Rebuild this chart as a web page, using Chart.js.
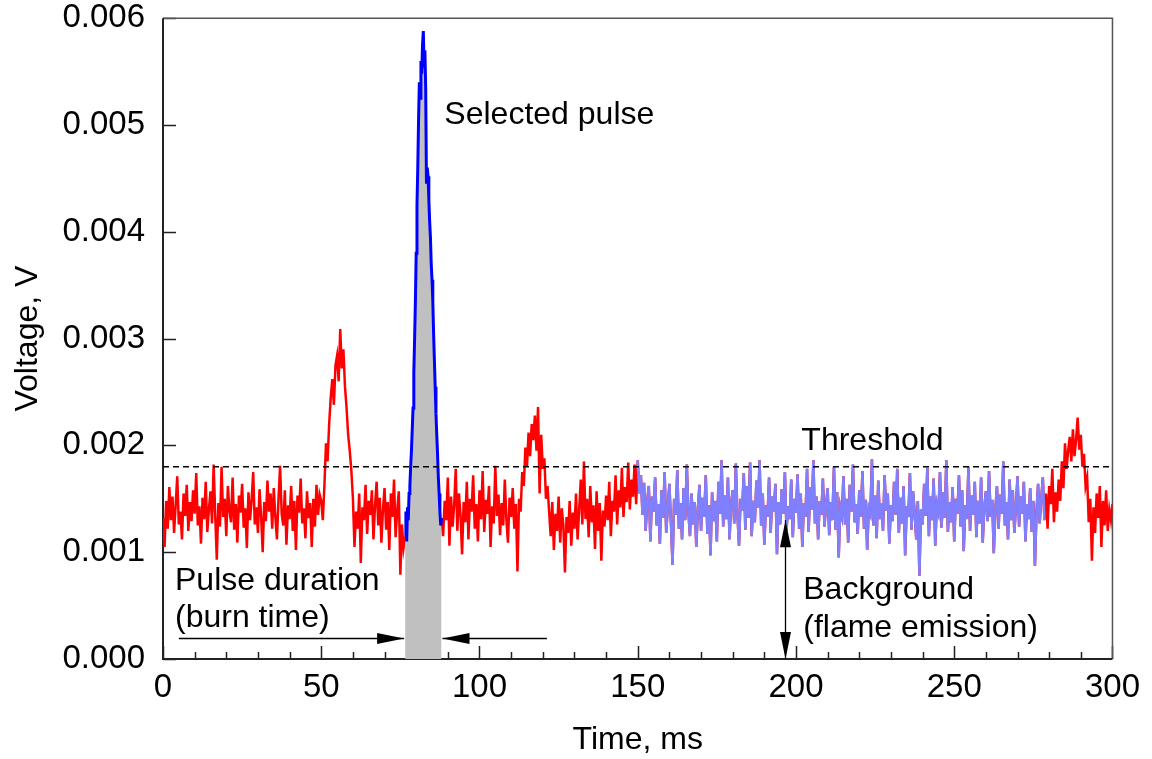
<!DOCTYPE html>
<html>
<head>
<meta charset="utf-8">
<title>Voltage trace</title>
<script src="https://cdn.jsdelivr.net/npm/chart.js@4.4.1/dist/chart.umd.min.js"></script>
<style>
  html, body { margin: 0; padding: 0; background: #fff; }
  canvas { display: block; }
</style>
</head>
<body>
<canvas id="trace" width="1152" height="759"></canvas>
<script>
// Photodiode voltage, millivolts, sampled every 0.5 ms from 0 to 300 ms.
// The selected-pulse window (77–87.5 ms) is left empty here and stored separately below.
const sampleStepMs = 0.5;
const signalMv = [
  // 0–10 ms
  1.32,1.05,1.48,1.22,1.61,1.30,1.52,1.18,1.44,1.71,1.26,1.38,1.12,1.55,1.34,1.63,1.20,1.47,1.29,1.58,
  // 10–20 ms
  1.36,1.74,1.25,1.43,1.08,1.51,1.31,1.66,1.19,1.40,1.57,1.27,1.82,1.35,0.93,1.46,1.24,1.80,1.33,1.50,
  // 20–30 ms
  1.15,1.62,1.39,1.28,1.70,1.21,1.45,1.09,1.53,1.37,1.64,1.23,1.41,1.04,1.56,1.30,1.49,1.75,1.26,1.42,
  // 30–40 ms
  1.18,1.59,1.34,1.00,1.47,1.29,1.67,1.38,1.55,1.22,1.60,1.33,1.12,1.50,1.81,1.36,1.25,1.58,1.07,1.44,
  // 40–50 ms
  1.31,1.62,1.20,1.48,1.02,1.53,1.37,1.69,1.27,1.41,1.13,1.57,1.32,1.46,1.05,1.50,1.24,1.63,1.35,1.54,
  // 50–60 ms (first weak pulse)
  1.48,1.30,1.62,2.02,1.85,2.20,2.45,2.62,2.38,2.75,2.84,2.60,3.09,2.72,2.90,2.55,2.35,2.10,1.95,1.77,
  // 60–70 ms
  1.51,1.05,1.38,1.22,1.55,0.90,1.42,1.30,1.63,1.17,1.48,1.35,1.58,1.12,1.44,1.66,1.25,1.51,1.09,1.40,
  // 70–76.5 ms
  1.60,1.21,1.47,1.02,1.55,1.33,1.68,1.14,1.39,1.57,0.79,1.26,1.04,1.15,
  // 77–87.5 ms: selected pulse, see pulseMv
  null,null,null,null,null,null,null,null,null,null,null,
  null,null,null,null,null,null,null,null,null,null,null,
  // 88–100 ms
  1.32,1.15,1.48,1.30,1.70,1.06,1.52,1.24,1.44,1.78,1.20,1.55,1.35,0.98,1.47,1.28,1.66,1.12,1.50,1.38,1.72,1.22,1.45,1.10,
  // 100–110 ms
  1.58,1.31,1.76,1.19,1.49,1.36,1.62,1.05,1.43,1.27,1.81,1.34,1.54,1.16,1.46,1.25,1.68,1.30,1.09,1.51,
  // 110–122 ms (second weak pulse)
  1.33,1.60,1.22,1.45,0.82,1.50,1.38,1.75,1.62,1.98,1.80,2.12,1.90,2.20,2.05,2.28,1.95,2.36,1.55,2.10,1.78,1.88,1.50,1.62,
  // 122–130 ms
  1.38,1.15,1.47,1.02,1.36,1.20,1.52,1.09,1.41,1.25,0.81,1.33,1.18,1.48,1.06,1.37,
  // 130–140 ms
  1.22,1.55,1.12,1.40,1.68,1.26,1.85,1.31,1.50,1.14,1.62,1.28,1.44,1.03,1.57,1.20,1.46,0.92,1.39,1.24,
  // 140–150 ms
  1.53,1.30,1.66,1.15,1.48,1.38,1.72,1.26,1.58,1.42,1.79,1.33,1.61,1.47,1.84,1.40,1.68,1.52,1.82,1.45,
  // 150–160 ms
  1.86,1.55,1.72,1.35,1.65,1.20,1.48,1.62,1.10,1.52,1.38,1.70,1.25,1.45,1.08,1.58,1.32,1.75,1.18,1.42,
  // 160–170 ms
  1.64,1.27,0.88,1.50,1.35,1.77,1.22,1.46,1.12,1.60,1.30,1.82,1.38,1.15,1.55,1.26,1.47,1.05,1.40,1.63,
  // 170–180 ms
  1.20,1.51,1.33,1.72,1.17,1.44,0.97,1.56,1.29,1.48,1.10,1.66,1.36,1.86,1.24,1.53,1.31,1.70,1.12,1.45,
  // 180–190 ms
  1.58,1.27,1.83,1.35,1.06,1.50,1.39,1.74,1.21,1.62,1.32,1.84,1.15,1.48,1.28,1.67,1.42,1.86,1.25,1.55,
  // 190–200 ms
  1.07,1.44,1.33,1.70,1.18,1.52,1.38,1.64,0.98,1.47,1.26,1.59,1.36,1.75,1.20,1.43,1.31,1.68,1.14,1.50,
  // 200–210 ms
  1.37,1.73,1.22,1.55,1.05,1.46,1.33,1.78,1.19,1.61,1.40,1.86,1.27,1.52,1.12,1.48,1.35,1.69,1.24,1.44,
  // 210–220 ms
  1.60,1.16,1.47,1.30,1.80,1.21,1.56,0.95,1.42,1.34,1.71,1.26,1.50,1.09,1.63,1.38,1.82,1.28,1.45,1.17,
  // 220–230 ms
  1.58,1.33,1.76,1.22,1.49,1.02,1.41,1.36,1.87,1.25,1.53,1.13,1.67,1.31,1.46,1.20,1.72,1.39,1.55,1.08,
  // 230–240 ms
  1.44,1.29,1.66,1.35,1.78,1.18,1.51,1.27,1.62,0.97,1.43,1.33,1.74,1.21,1.57,1.37,1.12,1.48,0.78,1.40,
  // 240–250 ms
  1.26,1.64,1.34,1.79,1.15,1.52,1.30,1.69,1.06,1.45,1.38,1.75,1.23,1.56,1.32,1.86,1.19,1.47,1.28,1.61,
  // 250–260 ms
  1.10,1.50,1.36,1.72,1.24,1.58,1.01,1.44,1.31,1.80,1.20,1.53,1.35,1.66,1.14,1.48,1.27,1.70,1.09,1.42,
  // 260–270 ms
  1.57,1.29,1.76,1.33,1.49,0.99,1.40,1.62,1.22,1.54,1.36,1.85,1.25,1.47,1.12,1.68,1.30,1.58,1.18,1.43,
  // 270–278 ms
  1.71,1.24,1.52,1.36,1.66,1.10,1.45,1.31,1.60,1.19,1.48,0.87,1.38,1.64,1.27,1.50,
  // 278–290 ms (third weak pulse)
  1.70,1.30,1.55,1.22,1.62,1.45,1.78,1.28,1.56,1.38,1.68,1.48,1.85,1.60,2.02,1.78,1.95,2.08,1.85,2.15,1.90,2.05,2.26,1.96,
  // 290–300 ms
  2.10,1.80,1.92,1.62,1.70,1.28,1.50,0.92,1.42,1.18,1.55,1.32,1.62,1.05,1.48,1.25,1.58,1.20,1.40,1.30,1.45
];

// Selected pulse, millivolts, every 0.25 ms from 76.5 ms to 88 ms.
const pulseStartMs = 76.5;
const pulseStepMs = 0.25;
const pulseMv = [
  1.15,1.38,1.10,1.42,1.30,1.55,1.62,1.80,1.95,2.15,
  2.35,2.68,3.00,3.35,3.80,4.25,4.60,5.05,5.40,5.25,
  5.60,5.48,5.75,5.88,5.55,5.70,5.35,4.45,4.60,4.52,
  4.30,4.10,3.95,3.70,3.55,3.35,3.05,2.80,2.55,2.30,
  2.10,1.92,1.70,1.55,1.38,1.25,1.32
];
const pulseEndMs = 88;

// Stretch used to estimate the flame-emission background.
const backgroundFromMs = 150;
const backgroundToMs = 278.5;

// Detection threshold, volts.
const thresholdV = 0.0018;

// Axis ticks.
const xTickValues = [0, 50, 100, 150, 200, 250, 300];
const xTickLabels = ['0', '50', '100', '150', '200', '250', '300'];
const yTickValues = [0, 0.001, 0.002, 0.003, 0.004, 0.005, 0.006];
const yTickLabels = ['0.000', '0.001', '0.002', '0.003', '0.004', '0.005', '0.006'];
const xMinorStepMs = 10;

const FONT = '"Liberation Sans", Arial, Helvetica, sans-serif';

const toV = mv => (mv == null ? null : mv / 1000);
const trace = signalMv.map((mv, i) => ({ x: i * sampleStepMs, y: toV(mv) }));
const backgroundTrace = trace.filter(p => p.x >= backgroundFromMs && p.x <= backgroundToMs);
const pulseTrace = pulseMv.map((mv, i) => ({ x: pulseStartMs + i * pulseStepMs, y: toV(mv) }));
const thresholdLine = [{ x: 0, y: thresholdV }, { x: 300, y: thresholdV }];

// Frame and inward tick marks, drawn underneath the traces.
const framePlugin = {
  id: 'frame',
  beforeDatasetsDraw(chart) {
    const { ctx, chartArea: a, scales: { x, y } } = chart;
    ctx.save();
    ctx.strokeStyle = '#222';
    ctx.lineWidth = 1.5;
    ctx.beginPath();
    for (let t = 0; t <= 300; t += xMinorStepMs) {
      const px = Math.round(x.getPixelForValue(t)) + 0.5;
      const len = t % 50 === 0 ? 13 : 7;
      ctx.moveTo(px, a.bottom);
      ctx.lineTo(px, a.bottom - len);
    }
    yTickValues.forEach(v => {
      const py = Math.round(y.getPixelForValue(v)) + 0.5;
      ctx.moveTo(a.left, py);
      ctx.lineTo(a.left + 13, py);
    });
    ctx.stroke();

    ctx.strokeStyle = '#555';
    ctx.lineWidth = 1.5;
    ctx.beginPath();
    ctx.moveTo(a.left, a.top);
    ctx.lineTo(a.right, a.top);
    ctx.lineTo(a.right, a.bottom);
    ctx.stroke();

    ctx.strokeStyle = '#222';
    ctx.lineWidth = 2;
    ctx.beginPath();
    ctx.moveTo(a.left, a.top);
    ctx.lineTo(a.left, a.bottom);
    ctx.lineTo(a.right, a.bottom);
    ctx.stroke();
    ctx.restore();
  }
};

// Text labels and dimension arrows.
const notes = [
  { text: 'Selected pulse', t: 88.9, mv: 5.09 },
  { text: 'Threshold', t: 201.7, mv: 2.04 },
  { text: 'Pulse duration', t: 3.8, mv: 0.73 },
  { text: '(burn time)', t: 3.8, mv: 0.38 },
  { text: 'Background', t: 202.3, mv: 0.645 },
  { text: '(flame emission)', t: 202.3, mv: 0.29 }
];
const durationArrowMv = 0.196;
const durationArrowFromMs = 5;
const durationArrowToMs = 121.3;
const backgroundArrowMs = 196.6;
const backgroundLevelMv = 1.30;

function arrowHead(ctx, x1, y1, x2, y2) {
  const ang = Math.atan2(y2 - y1, x2 - x1);
  const len = 27, half = 5.5;
  ctx.beginPath();
  ctx.moveTo(x2, y2);
  ctx.lineTo(x2 - len * Math.cos(ang) + half * Math.sin(ang), y2 - len * Math.sin(ang) - half * Math.cos(ang));
  ctx.lineTo(x2 - len * Math.cos(ang) - half * Math.sin(ang), y2 - len * Math.sin(ang) + half * Math.cos(ang));
  ctx.closePath();
  ctx.fill();
}
function arrow(ctx, x1, y1, x2, y2) {
  ctx.beginPath();
  ctx.moveTo(x1, y1);
  ctx.lineTo(x2, y2);
  ctx.stroke();
  arrowHead(ctx, x1, y1, x2, y2);
}

const notesPlugin = {
  id: 'notes',
  afterDatasetsDraw(chart) {
    const { ctx, scales: { x, y } } = chart;
    ctx.save();
    ctx.fillStyle = '#000';
    ctx.strokeStyle = '#000';
    ctx.lineWidth = 1.3;
    ctx.font = '32px ' + FONT;
    ctx.textAlign = 'left';
    ctx.textBaseline = 'middle';
    notes.forEach(n => ctx.fillText(n.text, x.getPixelForValue(n.t), y.getPixelForValue(toV(n.mv))));

    const ay = Math.round(y.getPixelForValue(toV(durationArrowMv))) + 0.5;
    arrow(ctx, x.getPixelForValue(durationArrowFromMs), ay, x.getPixelForValue(pulseStartMs) - 1, ay);
    arrow(ctx, x.getPixelForValue(durationArrowToMs), ay, x.getPixelForValue(pulseEndMs) + 1, ay);

    const bx = Math.round(x.getPixelForValue(backgroundArrowMs)) + 0.5;
    const yTop = y.getPixelForValue(toV(backgroundLevelMv));
    const yBot = y.getPixelForValue(0);
    ctx.beginPath();
    ctx.moveTo(bx, yTop);
    ctx.lineTo(bx, yBot);
    ctx.stroke();
    arrowHead(ctx, bx, yBot, bx, yTop);
    arrowHead(ctx, bx, yTop, bx, yBot);
    ctx.restore();
  }
};

new Chart(document.getElementById('trace'), {
  type: 'line',
  data: {
    datasets: [
      {
        label: 'Threshold',
        data: thresholdLine,
        borderColor: '#000',
        borderWidth: 1.5,
        borderDash: [6, 4],
        pointRadius: 0,
        fill: false
      },
      {
        label: 'Selected pulse',
        data: pulseTrace,
        borderColor: '#0000ff',
        borderWidth: 3,
        pointRadius: 0,
        fill: 'origin',
        backgroundColor: '#c0c0c0'
      },
      {
        label: 'Background',
        data: backgroundTrace,
        borderColor: '#8080ff',
        borderWidth: 2.5,
        pointRadius: 0,
        fill: false
      },
      {
        label: 'Signal',
        data: trace,
        borderColor: '#ff0000',
        borderWidth: 2.5,
        pointRadius: 0,
        spanGaps: false,
        fill: false
      }
    ]
  },
  options: {
    responsive: false,
    animation: false,
    events: [],
    layout: { padding: { top: 0, right: 32, left: 0, bottom: 0 } },
    elements: { line: { tension: 0 } },
    plugins: { legend: { display: false }, tooltip: { enabled: false } },
    scales: {
      x: {
        type: 'linear',
        min: 0,
        max: 300,
        afterFit: s => { s.height = 100; },
        afterBuildTicks: s => { s.ticks = xTickValues.map(v => ({ value: v })); },
        grid: { display: false, drawTicks: false },
        border: { display: false },
        ticks: {
          padding: 12,
          color: '#000',
          maxRotation: 0,
          font: { family: FONT, size: 33, lineHeight: 1.03 },
          callback: v => xTickLabels[xTickValues.indexOf(v)]
        },
        title: {
          display: true,
          text: 'Time, ms',
          color: '#000',
          font: { family: FONT, size: 32, lineHeight: 1.2 },
          padding: { top: 0, bottom: 0 }
        }
      },
      y: {
        min: 0,
        max: 0.006,
        afterFit: s => { s.width = 163; },
        afterBuildTicks: s => { s.ticks = yTickValues.map(v => ({ value: v })); },
        grid: { display: false, drawTicks: false },
        border: { display: false },
        ticks: {
          padding: 18,
          color: '#000',
          font: { family: FONT, size: 33, lineHeight: 0.01 },
          callback: v => yTickLabels[yTickValues.findIndex(t => Math.abs(t - v) < 1e-9)]
        },
        title: {
          display: true,
          text: 'Voltage, V',
          color: '#000',
          font: { family: FONT, size: 32, lineHeight: 1.2 },
          padding: { top: 9, bottom: 0 }
        }
      }
    }
  },
  plugins: [framePlugin, notesPlugin]
});
</script>
</body>
</html>
